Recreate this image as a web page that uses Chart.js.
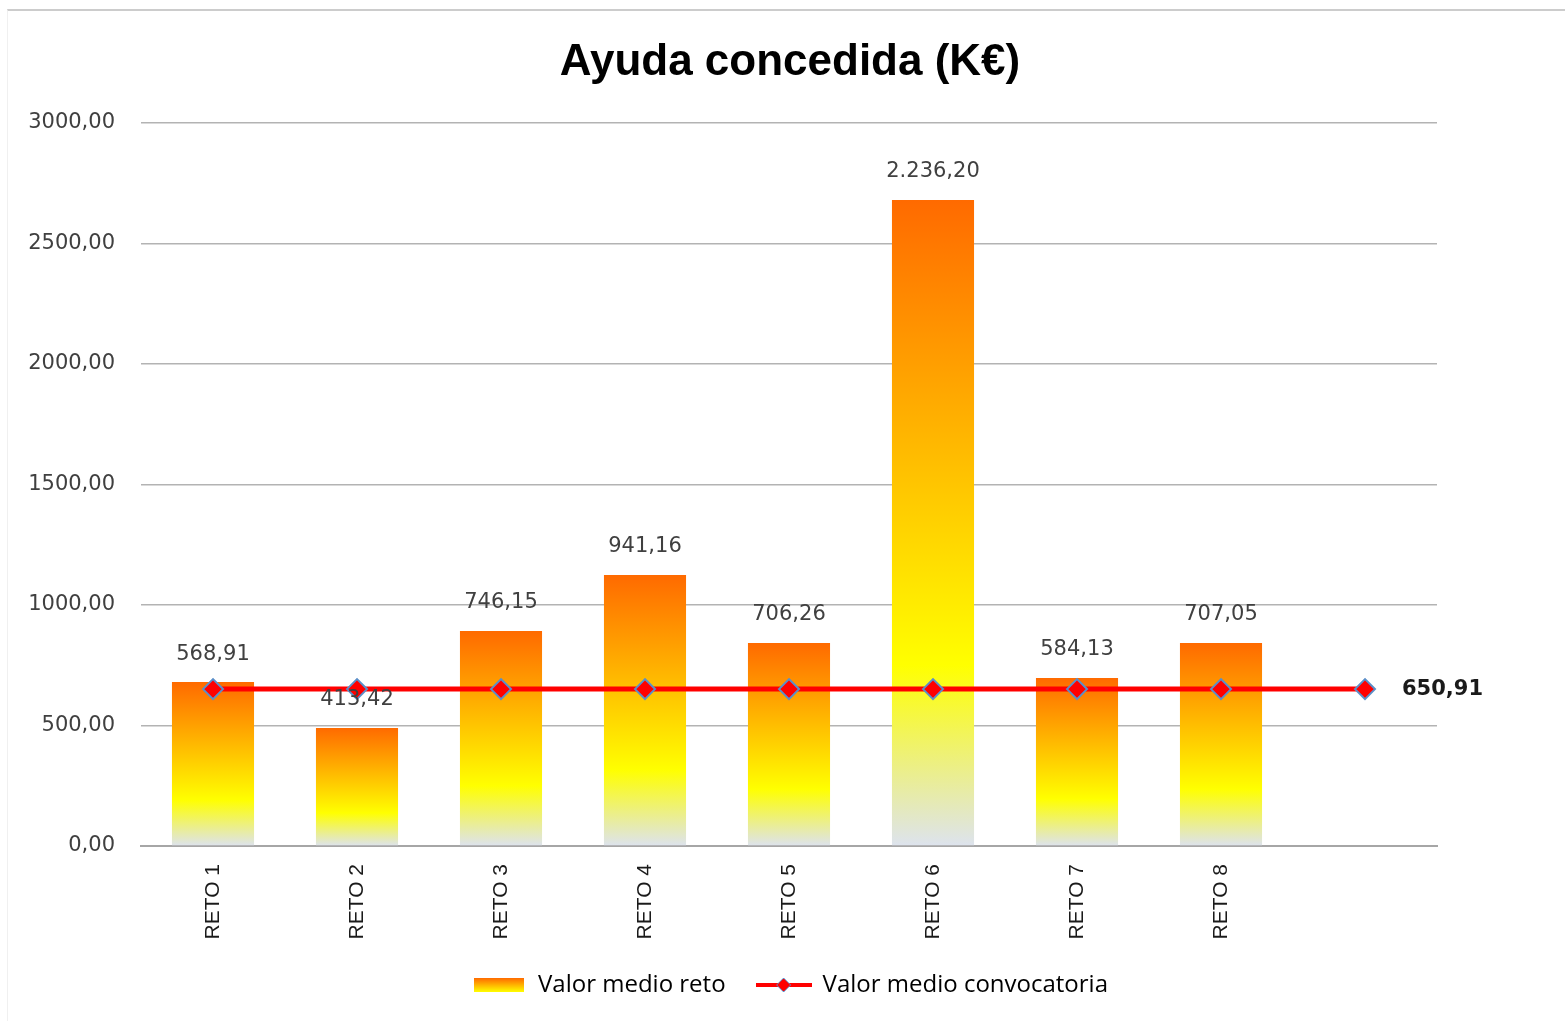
<!DOCTYPE html>
<html>
<head>
<meta charset="utf-8">
<script src="https://cdn.jsdelivr.net/npm/chart.js@4.4.1/dist/chart.umd.min.js"></script>
<style>
    body { margin: 0; background: #fff; }
    #frame { position: absolute; left: 7px; top: 9px; width: 1558px; height: 1012px; border-top: 2px solid #cccccc; border-left: 1px solid #f0f0f0; }
    #wrap { position: absolute; left: 0; top: 0; }
</style>
</head>
<body>
<div id="frame"></div>
<div id="wrap"><canvas id="barChart" width="1565" height="1021"></canvas></div>
<script>
// categorias (la ultima vacia, solo lleva el punto de la media)
const categories = ['RETO 1', 'RETO 2', 'RETO 3', 'RETO 4', 'RETO 5', 'RETO 6', 'RETO 7', 'RETO 8', ''];
// altura de las barras
const barValues = [680, 490, 892, 1124, 842, 2680, 697, 842, null];
// etiquetas que muestra cada barra
const barLabels = ['568,91', '413,42', '746,15', '941,16', '706,26', '2.236,20', '584,13', '707,05', ''];
const meanValues = [650.91, 650.91, 650.91, 650.91, 650.91, 650.91, 650.91, 650.91, 650.91];
const meanLabel = '650,91';
const yMin = 0, yMax = 3000, yStep = 500;

const numFont = "'DejaVu Sans', sans-serif";

function fmt(v) {
    return v.toFixed(2).replace('.', ',');
}

function barGradient(c) {
    const chart = c.chart;
    const y = chart.scales.y;
    if (!y || c.type !== 'data' || c.raw == null) return '#ff8a00';
    const top = y.getPixelForValue(c.raw);
    const bot = y.getPixelForValue(0);
    const g = chart.ctx.createLinearGradient(0, top, 0, bot);
    g.addColorStop(0, '#ff6a00');
    g.addColorStop(0.72, '#ffff00');
    g.addColorStop(1, '#dde3ee');
    return g;
}

// simbolos de la leyenda
function legendBox() {
    const cv = document.createElement('canvas');
    cv.width = 50; cv.height = 14;
    const c = cv.getContext('2d');
    const g = c.createLinearGradient(0, 0, 0, 14);
    g.addColorStop(0, '#ff6a00');
    g.addColorStop(1, '#ffff00');
    c.fillStyle = g;
    c.fillRect(0, 0, 50, 14);
    return cv;
}
function legendLine() {
    const cv = document.createElement('canvas');
    cv.width = 56; cv.height = 18;
    const c = cv.getContext('2d');
    c.fillStyle = '#ff0000';
    c.fillRect(0, 7, 56, 4);
    c.beginPath();
    c.moveTo(28, 2); c.lineTo(35, 9); c.lineTo(28, 16); c.lineTo(21, 9); c.closePath();
    c.fill();
    c.strokeStyle = '#5b8fc9';
    c.lineWidth = 1;
    c.stroke();
    return cv;
}

const labelPlugin = {
    id: 'valueLabels',
    afterDatasetsDraw(chart) {
        const ctx = chart.ctx;
        ctx.save();
        ctx.textAlign = 'center';
        ctx.textBaseline = 'middle';
        ctx.fillStyle = '#404040';
        ctx.font = '21px ' + numFont;
        chart.getDatasetMeta(0).data.forEach((el, i) => {
            if (barValues[i] == null) return;
            ctx.fillText(barLabels[i], el.x, el.y - 28);
        });
        const pts = chart.getDatasetMeta(1).data;
        const last = pts[pts.length - 1];
        ctx.textAlign = 'left';
        ctx.fillStyle = '#1a1a1a';
        ctx.font = 'bold 21px ' + numFont;
        ctx.fillText(meanLabel, last.x + 37, last.y);
        ctx.restore();
    }
};

const ctx = document.getElementById('barChart').getContext('2d');
const chart = new Chart(ctx, {
    type: 'bar',
    data: {
        labels: categories,
        datasets: [{
            label: 'Valor medio reto',
            data: barValues,
            backgroundColor: barGradient,
            borderWidth: 0,
            barPercentage: 0.57,
            categoryPercentage: 1,
            order: 2
        }, {
            type: 'line',
            label: 'Valor medio convocatoria',
            data: meanValues,
            borderColor: '#ff0000',
            borderWidth: 5,
            pointStyle: 'rectRot',
            pointRadius: 10,
            pointBackgroundColor: '#ff0000',
            pointBorderColor: '#5b8fc9',
            pointBorderWidth: 2,
            order: 1
        }]
    },
    options: {
        responsive: false,
        animation: false,
        events: [],
        layout: { padding: { left: 15, right: 0, top: 0, bottom: 14 } },
        plugins: {
            title: {
                display: true,
                text: 'Ayuda concedida (K€)',
                color: '#000',
                font: { family: "'Liberation Sans', sans-serif", size: 44, weight: 'bold' },
                padding: { top: 36, bottom: 34 }
            },
            legend: {
                position: 'bottom',
                labels: {
                    usePointStyle: true,
                    pointStyleWidth: 54,
                    padding: 31,
                    color: '#262626',
                    font: { family: "'Open Sans', sans-serif", size: 24 },
                    generateLabels: () => [
                        { text: 'Valor medio reto', pointStyle: legendBox(), fillStyle: '#ff8a00', strokeStyle: '#ff8a00', lineWidth: 0, hidden: false, datasetIndex: 0 },
                        { text: 'Valor medio convocatoria', pointStyle: legendLine(), fillStyle: '#ff0000', strokeStyle: '#ff0000', lineWidth: 0, hidden: false, datasetIndex: 1 }
                    ]
                }
            },
            tooltip: { enabled: false }
        },
        scales: {
            x: {
                grid: { display: false },
                border: { display: true, color: '#a6a6a6', width: 2 },
                ticks: {
                    minRotation: 90,
                    maxRotation: 90,
                    padding: 10,
                    color: '#1a1a1a',
                    font: { family: "'Liberation Sans', sans-serif", size: 21 }
                },
                afterFit(scale) { scale.height = 96; }
            },
            y: {
                min: yMin,
                max: yMax,
                grid: { color: '#b3b3b3', lineWidth: 1.5, drawTicks: false },
                border: { display: false },
                ticks: {
                    stepSize: yStep,
                    padding: 26,
                    color: '#404040',
                    font: { family: numFont, size: 21 },
                    callback: (v) => fmt(v)
                },
                afterFit(scale) { scale.width = 126; }
            },
            r: {
                position: 'right',
                grid: { display: false },
                border: { display: false },
                ticks: { display: false },
                afterFit(scale) { scale.width = 128; }
            }
        }
    },
    plugins: [labelPlugin]
});
</script>
</body>
</html>
